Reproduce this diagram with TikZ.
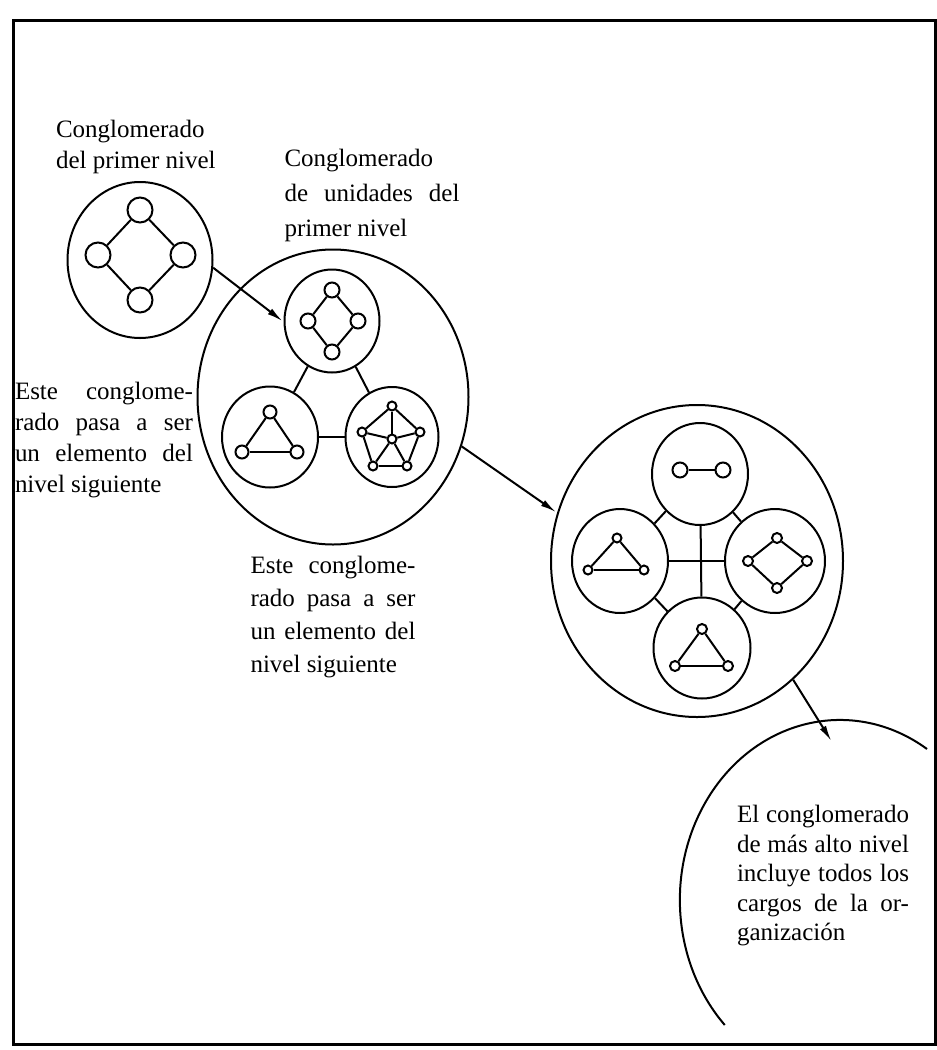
\documentclass[tikz,border=0pt]{standalone}
\usepackage{fontspec}
\setmainfont{Liberation Serif}
\usetikzlibrary{shapes.geometric, positioning, arrows.meta}

\begin{document}
\begin{tikzpicture}[x=1pt,y=-1pt,on grid,auto,line width=2pt,
    grupo/.style 2 args={draw,ellipse,inner sep=0pt,minimum width=#1,minimum height=#2},
    punto/.style={draw,circle,inner sep=0pt,minimum size=#1},
    texto/.style={inner sep=0pt,align=justify,font=\fontsize{25}{31}\selectfont},
    flecha/.style={-{Latex[length=16pt,width=7pt]},shorten >=1pt}]
  \useasboundingbox (0,0) rectangle (937,1050);
  \draw[line width=3pt] (13,20) rectangle (935,1044);

  % primer nivel
  \node[grupo={145}{156}] (k_1) at (140,260) {};
  \node[punto=25] (k_1a) [above=50pt of k_1] {};
  \node[punto=25] (k_1b) [above left=5pt and 42pt of k_1] {};
  \node[punto=25] (k_1c) [above right=5pt and 43pt of k_1] {};
  \node[punto=25] (k_1d) [below=40pt of k_1] {};
  \path (k_1a) edge (k_1b)
        (k_1b) edge (k_1d)
        (k_1d) edge (k_1c)
        (k_1c) edge (k_1a);

  % unidades del primer nivel
  \node[grupo={271}{295}] (k_2) at (333,397) {};
  \node[grupo={95}{103}] (k_2a) [above left=76pt and 1pt of k_2] {};
  \node[grupo={96}{101}] (k_2b) [below left=40pt and 63pt of k_2] {};
  \node[grupo={93}{100}] (k_2c) [below right=40pt and 59pt of k_2] {};
  \path (k_2a) edge (k_2b)
        (k_2a) edge (k_2c)
        (k_2b) edge (k_2c);

  \node[punto=15] (a_1) [above=31pt of k_2a] {};
  \node[punto=15] (a_2) [left=24pt of k_2a] {};
  \node[punto=15] (a_3) [right=26pt of k_2a] {};
  \node[punto=15] (a_4) [below=31pt of k_2a] {};
  \path (a_1) edge (a_2) (a_2) edge (a_4) (a_4) edge (a_3) (a_3) edge (a_1);

  \node[punto=13] (b_1) [above=25pt of k_2b] {};
  \node[punto=13] (b_2) [below left=15pt and 28pt of k_2b] {};
  \node[punto=13] (b_3) [below right=15pt and 27pt of k_2b] {};
  \path (b_1) edge (b_2) (b_2) edge (b_3) (b_3) edge (b_1);

  \node[punto=9] (c_0) [below=2pt of k_2c] {};
  \node[punto=9] (c_1) [above=33pt of c_0] {};
  \node[punto=9] (c_2) [above left=7pt and 30pt of c_0] {};
  \node[punto=9] (c_3) [above right=7pt and 28pt of c_0] {};
  \node[punto=9] (c_4) [below left=27pt and 19pt of c_0] {};
  \node[punto=9] (c_5) [below right=27pt and 15pt of c_0] {};
  \path (c_1) edge (c_2) (c_2) edge (c_4) (c_4) edge (c_5)
        (c_5) edge (c_3) (c_3) edge (c_1);
  \foreach \i in {1,...,5}
    \path (c_0) edge (c_\i);

  % nivel siguiente
  \node[grupo={292}{312}] (k_3) at (697,561) {};
  \node[grupo={96}{102}] (k_3a) [above right=87pt and 3pt of k_3] {};
  \node[grupo={96}{104}] (k_3b) [left=77pt of k_3] {};
  \node[grupo={100}{104}] (k_3c) [right=78pt of k_3] {};
  \node[grupo={97}{101}] (k_3d) [below right=87pt and 5pt of k_3] {};
  \path (k_3a) edge (k_3d)
        (k_3b) edge (k_3c)
        (k_3a) edge (k_3b)
        (k_3a) edge (k_3c)
        (k_3b) edge (k_3d)
        (k_3c) edge (k_3d);

  \node[punto=15] (d_1) [above left=4pt and 20pt of k_3a] {};
  \node[punto=15] (d_2) [above right=4pt and 23pt of k_3a] {};
  \path (d_1) edge (d_2);

  \node[punto=9] (e_1) [above left=23pt and 3pt of k_3b] {};
  \node[punto=9] (e_2) [below left=9pt and 32pt of k_3b] {};
  \node[punto=9] (e_3) [below right=9pt and 24pt of k_3b] {};
  \path (e_1) edge (e_2) (e_2) edge (e_3) (e_3) edge (e_1);

  \node[punto=10] (f_1) [above right=23pt and 2pt of k_3c] {};
  \node[punto=10] (f_2) [left=27pt of k_3c] {};
  \node[punto=10] (f_3) [right=32pt of k_3c] {};
  \node[punto=10] (f_4) [below right=27pt and 2pt of k_3c] {};
  \path (f_1) edge (f_2) (f_2) edge (f_4) (f_4) edge (f_3) (f_3) edge (f_1);

  \node[punto=10] (h_1) [above=19pt of k_3d] {};
  \node[punto=10] (h_2) [below left=18pt and 27pt of k_3d] {};
  \node[punto=10] (h_3) [below right=18pt and 26pt of k_3d] {};
  \path (h_1) edge (h_2) (h_2) edge (h_3) (h_3) edge (h_1);

  % mas alto nivel
  \coordinate (k_4) at (832,742);
  \draw (927,749) arc[start angle=-57, end angle=-224, x radius=160, y radius=180];

  \draw[flecha] (k_1.-6) -- (k_2a.181);
  \draw[flecha] (k_2.-21) -- (k_3.161);
  \draw[flecha] (k_3.-51) -- (k_4);

  % textos
  \node[texto,anchor=west,align=left] (t_1) at (55,147) {Conglomerado\\del primer nivel};
  \node[texto,text width=175pt,font=\fontsize{25}{35}\selectfont] (t_2) at (372,195)
    {Conglomerado\\de unidades del\linebreak primer nivel};
  \node[texto,text width=178pt] (t_3) at (104,440)
    {Este conglome-\linebreak rado pasa a ser\linebreak un elemento del\linebreak nivel siguiente};
  \node[texto,text width=165pt,font=\fontsize{25}{33}\selectfont] (t_4) at (333,617)
    {Este conglome-\linebreak rado pasa a ser\linebreak un elemento del\linebreak nivel siguiente};
  \node[texto,text width=172pt,font=\fontsize{25}{29.5}\selectfont] (t_5) at (823,876)
    {El conglomerado\linebreak de más alto nivel\linebreak incluye todos los\linebreak cargos de la or-\linebreak ganización};
\end{tikzpicture}
\end{document}
